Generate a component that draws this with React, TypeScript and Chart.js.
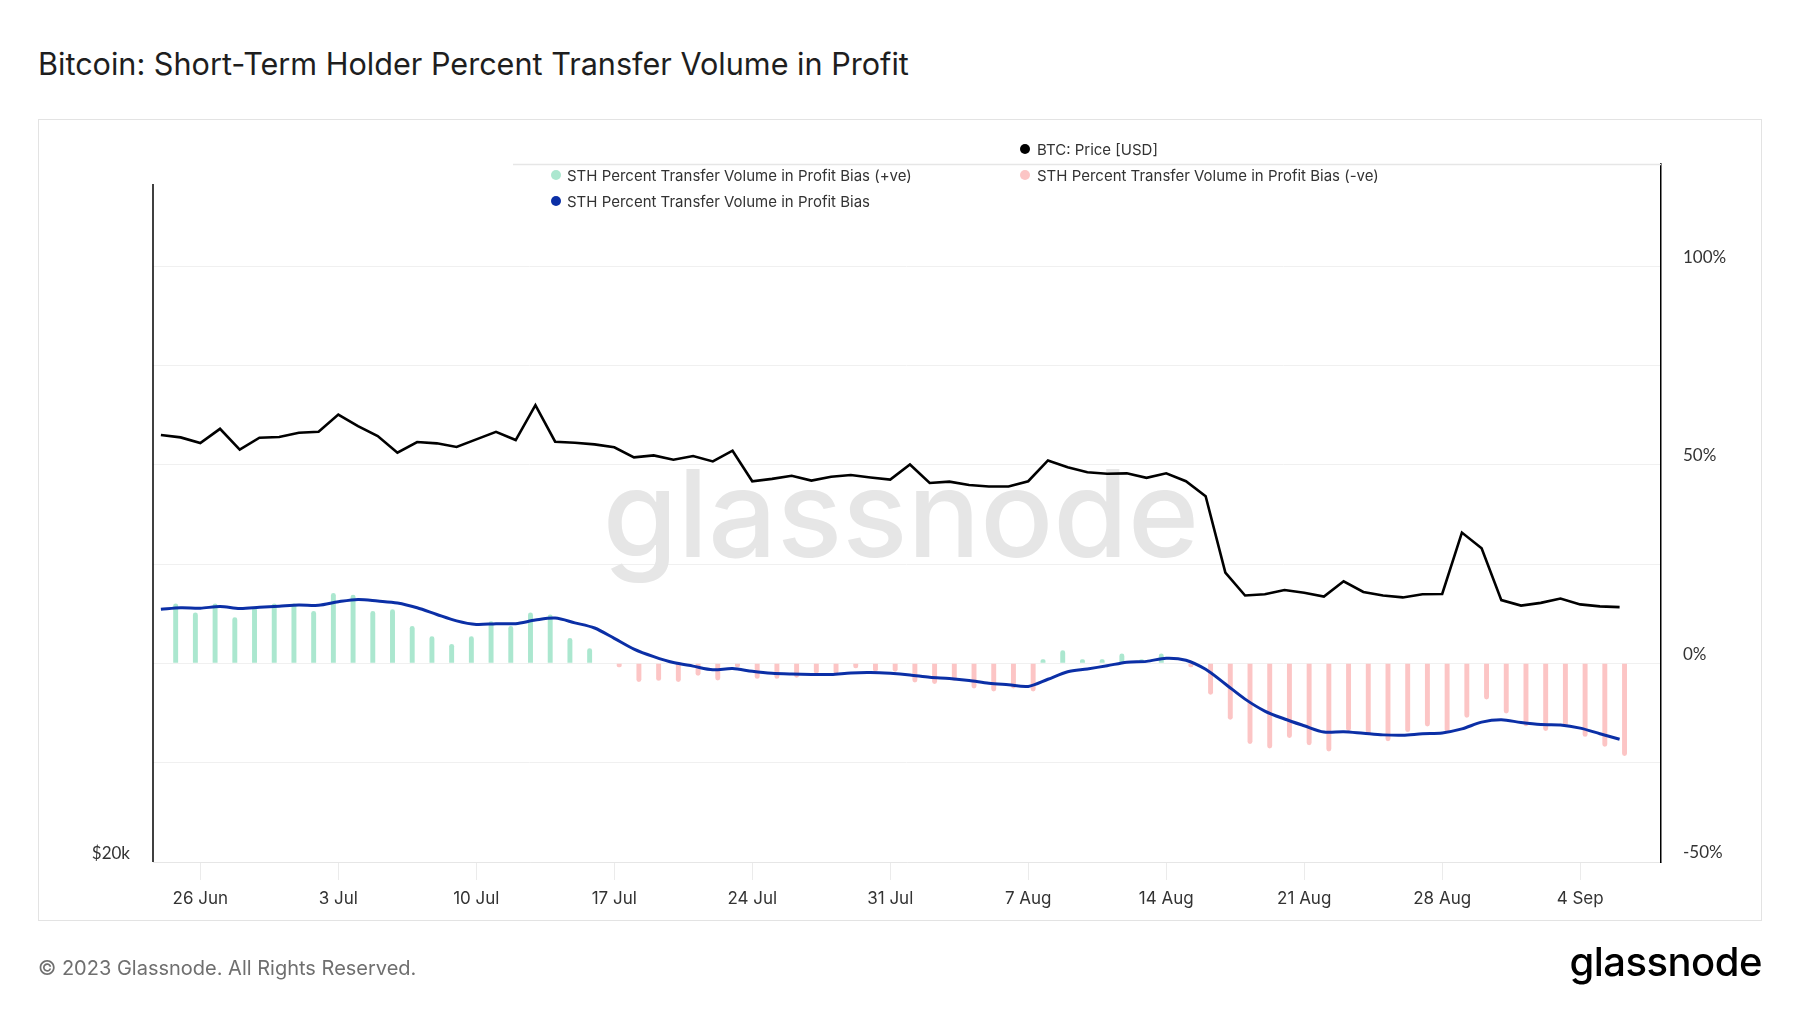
import React, { useEffect, useRef } from 'react';
import { Chart, registerables } from 'chart.js';

Chart.register(...registerables);

// ---------- data ----------
const START_DATE = '2023-06-24'; // first daily point

const TICK_DATES = [
  '2023-06-26', '2023-07-03', '2023-07-10', '2023-07-17', '2023-07-24', '2023-07-31',
  '2023-08-07', '2023-08-14', '2023-08-21', '2023-08-28', '2023-09-04',
];
const MONTHS = ['Jan', 'Feb', 'Mar', 'Apr', 'May', 'Jun', 'Jul', 'Aug', 'Sep', 'Oct', 'Nov', 'Dec'];

// BTC: Price [USD], daily, 24 Jun .. 6 Sep 2023
const BTC_PRICE = [
  30560, 30490, 30320, 30750, 30120, 30480, 30500, 30630, 30660, 31190,
  30830, 30530, 30030, 30350, 30310, 30200, 30430, 30660, 30410, 31480,
  30360, 30330, 30280, 30190, 29890, 29950, 29820, 29930, 29770, 30090,
  29190, 29260, 29350, 29210, 29320, 29370, 29300, 29240, 29680, 29140,
  29180, 29080, 29040, 29040, 29190, 29800, 29600, 29450, 29410, 29420,
  29290, 29420, 29190, 28760, 26660, 26060, 26090, 26200, 26130, 26030,
  26430, 26150, 26060, 26010, 26090, 26100, 27740, 27310, 25940, 25800,
  25870, 25980, 25830, 25780, 25760,
];

// STH Percent Transfer Volume in Profit Bias (%)
const STH_BIAS = [
  13.6, 14.0, 13.9, 14.3, 13.8, 14.1, 14.4, 14.7, 14.6, 15.5,
  16.1, 15.7, 15.2, 14.0, 12.3, 10.7, 9.8, 10.0, 10.0, 10.9,
  11.4, 10.2, 8.9, 6.3, 3.6, 1.7, 0.2, -0.7, -1.6, -1.3,
  -2.0, -2.5, -2.7, -2.8, -2.8, -2.4, -2.3, -2.5, -2.9, -3.5,
  -3.8, -4.3, -5.0, -5.4, -5.8, -4.0, -2.1, -1.4, -0.6, 0.3,
  0.5, 1.3, 0.8, -1.5, -5.2, -9.0, -12.0, -14.0, -15.7, -17.3,
  -17.2, -17.6, -18.0, -18.1, -17.7, -17.5, -16.5, -14.8, -14.2, -14.9,
  -15.4, -15.5, -16.3, -17.7, -19.1,
];

// STH Percent Transfer Volume in Profit Bias (+ve) (%)
const STH_BIAS_POS = [
  15.1, 12.8, 15.1, 11.6, 14.1, 15.1, 15.1, 13.2, 17.7, 17.3,
  13.2, 13.6, 9.4, 6.8, 4.9, 6.8, 10.6, 9.4, 12.8, 12.3,
  6.4, 3.8, null, null, null, null, null, null, null, null,
  null, null, null, null, null, null, null, null, null, null,
  null, null, null, null, 0.3, 3.3, 1.0, 0.7, 2.5, 0.4,
  2.5, null, null, null, null, null, null, null, null, null,
  null, null, null, null, null, null, null, null, null, null,
  null, null, null, null, null,
];

// STH Percent Transfer Volume in Profit Bias (-ve) (%)
const STH_BIAS_NEG = [
  null, null, null, null, null, null, null, null, null, null,
  null, null, null, null, null, null, null, null, null, null,
  null, null, null, -0.5, -4.7, -4.4, -4.7, -3.1, -4.3, -0.3,
  -3.9, -3.9, -3.6, -2.6, -2.6, -1.25, -2.1, -2.1, -4.8, -5.2,
  -4.4, -6.3, -7.1, -6.3, -7.1, null, null, null, null, null,
  null, null, -0.6, -7.9, -14.2, -20.3, -21.4, -18.8, -20.6, -22.2,
  -17.0, -18.1, -19.6, -17.3, -15.9, -17.3, -13.7, -9.1, -12.6, -15.8,
  -17.0, -15.9, -18.5, -21.0, -23.3,
];

const PRICE_TICKS = [20000];
const PCT_GRID_TICKS = [-50, -25, 0, 25, 50, 75, 100];
const PCT_LABELED_TICKS = [-50, 0, 50, 100];

// ---------- helpers ----------
const DAY_MS = 86400000;
const dayIndex = (d: string) => (Date.parse(d) - Date.parse(START_DATE)) / DAY_MS;
const TICK_DAYS = TICK_DATES.map(dayIndex);
const TICK_LABELS = TICK_DATES.map((d) => {
  const dt = new Date(d + 'T00:00:00Z');
  return `${dt.getUTCDate()} ${MONTHS[dt.getUTCMonth()]}`;
});

const GREEN = '#abe7cf';
const RED = '#fcc5c5';
const BLUE = '#0b2fa6';

const decorPlugin = {
  id: 'decor',
  beforeDatasetsDraw(chart: any) {
    const { ctx } = chart;
    ctx.save();
    ctx.font = '500 121px Inter';
    ctx.fillStyle = '#e6e6e6';
    ctx.textAlign = 'center';
    ctx.textBaseline = 'alphabetic';
    ctx.fillText('glassnode', 901, 557);
    ctx.restore();
  },
  afterDraw(chart: any) {
    const { ctx, chartArea } = chart;
    ctx.save();
    // light rule at the very top of the plot
    ctx.strokeStyle = '#e6e6e6';
    ctx.lineWidth = 1.5;
    ctx.beginPath();
    ctx.moveTo(513, chartArea.top + 0.5);
    ctx.lineTo(chartArea.right, chartArea.top + 0.5);
    ctx.stroke();
    // left axis line (starts a little lower than the right one)
    ctx.strokeStyle = '#000';
    ctx.lineWidth = 1.5;
    ctx.beginPath();
    ctx.moveTo(chartArea.left, chartArea.top + 20);
    ctx.lineTo(chartArea.left, chartArea.bottom);
    ctx.stroke();
    ctx.restore();
  },
};

export default function App() {
  const ref = useRef<HTMLCanvasElement>(null);

  useEffect(() => {
    const canvas = ref.current;
    if (!canvas) return;
    const chart = new Chart(canvas, {
      type: 'bar',
      data: {
        datasets: [
          {
            type: 'line',
            label: 'BTC: Price [USD]',
            data: BTC_PRICE.map((v, i) => ({ x: i, y: v })),
            yAxisID: 'y',
            borderColor: '#000000',
            backgroundColor: '#000000',
            borderWidth: 2.6,
            pointRadius: 0,
            tension: 0,
            order: 1,
          },
          {
            type: 'line',
            label: 'STH Percent Transfer Volume in Profit Bias',
            data: STH_BIAS.map((v, i) => ({ x: i, y: v })),
            yAxisID: 'y1',
            borderColor: BLUE,
            backgroundColor: BLUE,
            borderWidth: 3,
            pointRadius: 0,
            tension: 0.3,
            order: 2,
          },
          {
            type: 'bar',
            label: 'STH Percent Transfer Volume in Profit Bias (-ve)',
            // daily bars are centred between the day boundaries
            data: STH_BIAS_NEG.map((v, i) => ({ x: i + 0.5, y: v })),
            yAxisID: 'y1',
            backgroundColor: RED,
            borderRadius: 3,
            categoryPercentage: 1,
            barPercentage: 0.5,
            minBarLength: 4,
            order: 3,
          },
          {
            type: 'bar',
            label: 'STH Percent Transfer Volume in Profit Bias (+ve)',
            data: STH_BIAS_POS.map((v, i) => ({ x: i + 0.5, y: v })),
            yAxisID: 'y1',
            backgroundColor: GREEN,
            borderRadius: 3,
            categoryPercentage: 1,
            barPercentage: 0.5,
            minBarLength: 4,
            order: 4,
          },
        ],
      } as any,
      options: {
        responsive: false,
        animation: false,
        events: [],
        layout: { padding: { top: 164, left: 0, right: 0, bottom: 0 } },
        plugins: {
          legend: { display: false },
          tooltip: { enabled: false },
        },
        scales: {
          x: {
            type: 'linear',
            offset: false,
            min: -0.4,
            max: 76.1,
            afterFit: (s: any) => { s.height = 151; },
            afterBuildTicks: (s: any) => { s.ticks = TICK_DAYS.map((v) => ({ value: v })); },
            ticks: {
              autoSkip: false,
              maxRotation: 0,
              padding: 9,
              color: '#333333',
              font: { family: 'Inter', size: 17 },
              callback: (v: any) => {
                const k = TICK_DAYS.indexOf(Number(v));
                return k >= 0 ? TICK_LABELS[k] : '';
              },
            },
            grid: { offset: false, drawOnChartArea: false, drawTicks: true, tickLength: 18, color: '#ebebeb' },
            border: { color: '#e6e6e6', width: 1 },
          },
          y: {
            type: 'logarithmic',
            position: 'left',
            min: 20000,
            max: 40000,
            afterFit: (s: any) => { s.width = 153; },
            afterBuildTicks: (s: any) => { s.ticks = PRICE_TICKS.map((v) => ({ value: v })); },
            ticks: {
              padding: 23,
              labelOffset: -8,
              color: '#333333',
              font: { family: 'Lato', size: 17 },
              callback: (v: any) => `$${Number(v) / 1000}k`,
            },
            grid: { display: false, drawTicks: false },
            border: { display: false },
          },
          y1: {
            type: 'linear',
            position: 'right',
            min: -50,
            max: 125.7,
            afterFit: (s: any) => { s.width = 139; },
            afterBuildTicks: (s: any) => { s.ticks = PCT_GRID_TICKS.map((v) => ({ value: v })); },
            ticks: {
              padding: 22,
              labelOffset: -9,
              color: '#333333',
              font: { family: 'Lato', size: 17 },
              callback: (v: any) => (PCT_LABELED_TICKS.includes(Number(v)) ? `${v}%` : ''),
            },
            grid: { color: '#f0f0f0', drawTicks: false, lineWidth: 1 },
            border: { color: '#000000', width: 1.5 },
          },
        },
      } as any,
      plugins: [decorPlugin],
    });
    return () => chart.destroy();
  }, []);

  const legendText: React.CSSProperties = {
    position: 'absolute',
    fontSize: 15,
    lineHeight: '15px',
    color: '#333',
    whiteSpace: 'nowrap',
  };
  const dot = (cx: number, cy: number, color: string): React.CSSProperties => ({
    position: 'absolute',
    left: cx - 5,
    top: cy - 5,
    width: 10,
    height: 10,
    borderRadius: 5,
    background: color,
  });

  return (
    <div
      style={{
        position: 'absolute',
        left: 0,
        top: 0,
        width: 1800,
        height: 1013,
        background: '#ffffff',
        overflow: 'hidden',
        fontFamily: 'Inter, sans-serif',
      }}
    >
      <div
        style={{
          position: 'absolute',
          left: 38,
          top: 49,
          fontSize: 30.6,
          lineHeight: '30px',
          fontWeight: 400,
          color: '#1e1e1e',
          whiteSpace: 'nowrap',
        }}
      >
        Bitcoin: Short-Term Holder Percent Transfer Volume in Profit
      </div>
      <div
        style={{
          position: 'absolute',
          left: 38,
          top: 119,
          width: 1722,
          height: 800,
          border: '1px solid #e3e3e3',
        }}
      />
      <canvas ref={ref} width={1800} height={1013} style={{ position: 'absolute', left: 0, top: 0 }} />

      <span style={dot(1025, 149, '#000000')} />
      <span style={{ ...legendText, left: 1037, top: 141.5 }}>BTC: Price [USD]</span>
      <span style={dot(556, 175, GREEN)} />
      <span style={{ ...legendText, left: 567, top: 167.5 }}>STH Percent Transfer Volume in Profit Bias (+ve)</span>
      <span style={dot(1025, 175, RED)} />
      <span style={{ ...legendText, left: 1037, top: 167.5 }}>STH Percent Transfer Volume in Profit Bias (-ve)</span>
      <span style={dot(556, 201, BLUE)} />
      <span style={{ ...legendText, left: 567, top: 193.5 }}>STH Percent Transfer Volume in Profit Bias</span>

      <div
        style={{
          position: 'absolute',
          left: 38,
          top: 958,
          fontSize: 20,
          lineHeight: '20px',
          color: '#6f6f6f',
          whiteSpace: 'nowrap',
        }}
      >
        © 2023 Glassnode. All Rights Reserved.
      </div>
      <div
        style={{
          position: 'absolute',
          right: 38,
          top: 942,
          fontSize: 40,
          lineHeight: '40px',
          fontWeight: 500,
          color: '#000',
          whiteSpace: 'nowrap',
          letterSpacing: -0.5,
        }}
      >
        glassnode
      </div>
    </div>
  );
}
